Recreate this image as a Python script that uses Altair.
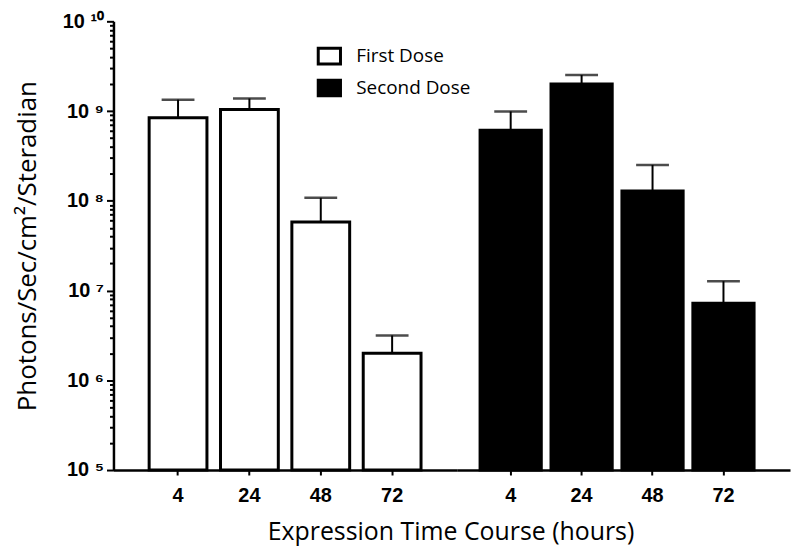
import altair as alt
import pandas as pd

# ---- data ----
times = ["4", "24", "48", "72"]
doses = ["First Dose", "Second Dose"]
first_mean = [8.4e8, 1.04e9, 5.8e7, 2.0e6]
first_err = [5.0e8, 3.4e8, 5.0e7, 1.16e6]
second_mean = [6.1e8, 2.0e9, 1.29e8, 7.2e6]
second_err = [3.8e8, 5.2e8, 1.22e8, 5.5e6]
decades = [5, 6, 7, 8, 9, 10]
superscripts = ["\u2075", "\u2076", "\u2077", "\u2078", "\u2079", "\u00b9\u2070"]
baseline = 1e5


def frame(dose, means, errs):
    return pd.DataFrame({
        "time": times,
        "dose": dose,
        "mean": means,
        "upper": [m + e for m, e in zip(means, errs)],
    })


df1 = frame(doses[0], first_mean, first_err)
df2 = frame(doses[1], second_mean, second_err)

# log axis ticks: every 1..9 x 10^k, labels only on decades
tick_values = [m * 10 ** e for e in decades[:-1] for m in range(1, 10)] + [10 ** decades[-1]]
exp_expr = "round(log(datum.value)/LN10)"
is_major = f"abs(log(datum.value)/LN10 - {exp_expr}) < 0.001"
chain = "''"
for d, s in reversed(list(zip(decades, superscripts))):
    chain = f"({exp_expr} == {d} ? '10 {s}' : {chain})"
label_expr = f"{is_major} ? {chain} : ''"

y_scale = alt.Scale(type="log", domain=[1e5, 1e10], nice=False)

y_axis = alt.Axis(
    title="Photons/Sec/cm\u00b2/Steradian",
    titleFont="Open Sans",
    titleFontSize=26,
    titleFontWeight="normal",
    titleColor="black",
    titlePadding=22,
    values=tick_values,
    labelExpr=label_expr,
    labelOverlap=False,
    labelFont="Liberation Sans",
    labelFontSize=20,
    labelFontWeight="bold",
    labelColor="black",
    labelPadding=3,
    tickSize={"condition": {"test": is_major, "value": 7}, "value": 4},
    tickWidth=2,
    tickColor="black",
    domainColor="black",
    domainWidth=2.5,
    grid=False,
)

legend = alt.Legend(
    orient="none",
    legendX=204,
    legendY=22,
    title=None,
    symbolType="M-1,-0.7L1,-0.7L1,0.7L-1,0.7Z",
    symbolSize=500,
    symbolStrokeColor="black",
    symbolStrokeWidth=3,
    labelFont="Open Sans",
    labelFontSize=19,
    labelColor="black",
    labelOffset=14,
    rowPadding=4,
)

fill_scale = alt.Scale(domain=doses, range=["white", "black"])


def panel(df, width, pad_inner, pad_outer, align, show_y):
    xscale = alt.Scale(paddingInner=pad_inner, paddingOuter=pad_outer, align=align)
    x_axis = alt.Axis(
        title=None,
        labelAngle=0,
        labelFont="Liberation Sans",
        labelFontSize=20,
        labelFontWeight="bold",
        labelColor="black",
        labelPadding=11,
        domainColor="black",
        domainWidth=2.5,
        tickColor="black",
        tickWidth=2,
        tickSize=5,
    )
    x = alt.X("time:N", sort=times, scale=xscale, axis=x_axis)
    bars = alt.Chart(df).mark_bar(stroke="black", strokeWidth=3).encode(
        x=x,
        y=alt.Y("mean:Q", scale=y_scale, stack=None, axis=y_axis if show_y else None),
        y2=alt.Y2(datum=baseline),
        fill=alt.Fill("dose:N", scale=fill_scale, legend=legend),
    )
    rule = alt.Chart(df).mark_rule(color="black", strokeWidth=2).encode(
        x=alt.X("time:N", sort=times),
        y=alt.Y("mean:Q", scale=y_scale),
        y2="upper:Q",
    )
    cap = alt.Chart(df).mark_tick(color="black", thickness=2.5, size=33).encode(
        x=alt.X("time:N", sort=times),
        y=alt.Y("upper:Q", scale=y_scale),
    )
    return alt.layer(bars, rule, cap).properties(width=width, height=451)


left = panel(df1, 345, 0.19, 0.5, 0.5, True)
right = panel(df2, 335, 0.137, 0.418, 0.394, False)

chart = (
    alt.hconcat(left, right, spacing=0, bounds="flush")
    .resolve_scale(x="independent", y="shared", fill="shared")
    .properties(
        title=alt.TitleParams(
            "Expression Time Course (hours)",
            orient="bottom",
            anchor="middle",
            font="Open Sans",
            fontSize=25,
            fontWeight="normal",
            color="black",
            dx=49,
            offset=14,
        ),
        padding={"left": 6, "top": 2, "right": 2, "bottom": 5},
        background="white",
    )
    .configure_view(stroke=None)
)

chart.save("out.html", embed_options={"renderer": "svg", "actions": False})
